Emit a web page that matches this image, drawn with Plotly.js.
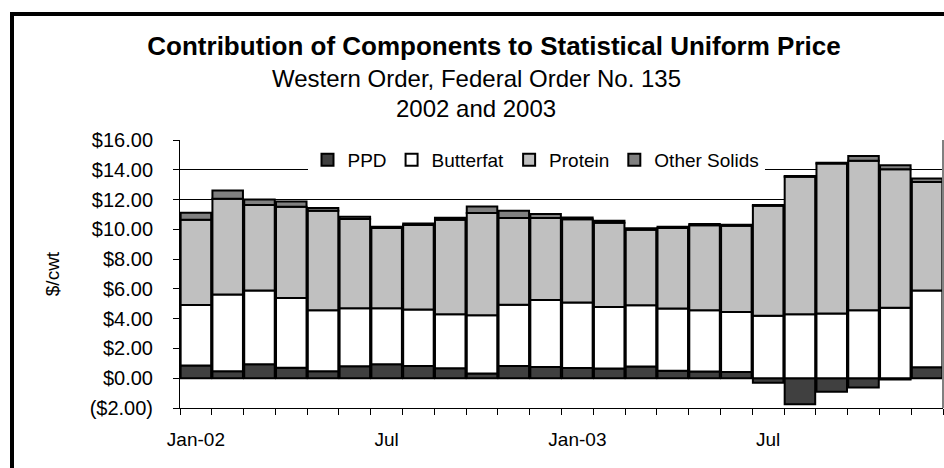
<!DOCTYPE html>
<html>
<head>
<meta charset="utf-8">
<script src="https://cdn.plot.ly/plotly-3.0.1.min.js"></script>
<style>
  html, body { margin: 0; padding: 0; background: #ffffff; overflow: hidden; }
  #chart { width: 944px; height: 468px; }
</style>
</head>
<body>
<div id="chart"></div>
<script>
// ---- Data ----
const categories = [
  'Jan-02','Feb-02','Mar-02','Apr-02','May-02','Jun-02',
  'Jul-02','Aug-02','Sep-02','Oct-02','Nov-02','Dec-02',
  'Jan-03','Feb-03','Mar-03','Apr-03','May-03','Jun-03',
  'Jul-03','Aug-03','Sep-03','Oct-03','Nov-03','Dec-03'
];
const xTickText = [
  'Jan-02','','','','','',
  'Jul','','','','','',
  'Jan-03','','','','','',
  'Jul','','','','',''
];
const ppd = [0.85, 0.47, 0.94, 0.71, 0.47, 0.80, 0.94, 0.82, 0.67, 0.31, 0.82, 0.76,
             0.69, 0.65, 0.78, 0.50, 0.45, 0.42, -0.31, -1.74, -0.91, -0.62, -0.09, 0.73];
const butterfat = [4.07, 5.16, 4.96, 4.68, 4.10, 3.90, 3.76, 3.79, 3.63, 3.92, 4.12, 4.50,
                   4.39, 4.14, 4.12, 4.18, 4.12, 4.03, 4.19, 4.30, 4.34, 4.57, 4.74, 5.17];
const protein = [5.73, 6.42, 5.73, 6.12, 6.68, 5.99, 5.39, 5.68, 6.35, 6.86, 5.82, 5.50,
                 5.59, 5.66, 5.08, 5.41, 5.70, 5.79, 7.39, 9.24, 10.09, 10.04, 9.29, 7.28];
const otherSolids = [0.47, 0.56, 0.38, 0.36, 0.18, 0.16, 0.09, 0.11, 0.13, 0.45, 0.49, 0.27,
                     0.13, 0.13, 0.09, 0.09, 0.09, 0.07, 0.05, 0.05, 0.05, 0.31, 0.27, 0.23];
const yTickValues = [-2, 0, 2, 4, 6, 8, 10, 12, 14, 16];
const yTickText = ['($2.00)','$0.00','$2.00','$4.00','$6.00','$8.00','$10.00','$12.00','$14.00','$16.00'];

// ---- Traces ----
const FONT = 'Liberation Sans, Arial, Helvetica, sans-serif';
function barTrace(name, values, color) {
  return {
    type: 'bar',
    name: name,
    x: categories,
    y: values,
    marker: { color: color, line: { color: '#000000', width: 2 } },
    hoverinfo: 'name+y'
  };
}
const data = [
  barTrace('PPD', ppd, '#404040'),
  barTrace('Butterfat', butterfat, '#ffffff'),
  barTrace('Protein', protein, '#c0c0c0'),
  barTrace('Other Solids', otherSolids, '#808080')
];

// pixel helpers for paper coordinates
const L = 180, R = 1, T = 140, B = 60, W = 944, H = 468;
const pw = W - L - R, ph = H - T - B;
const px = v => (v - L) / pw;
const py = v => (H - B - v) / ph;

const layout = {
  width: W, height: H,
  margin: { l: L, r: R, t: T, b: B, pad: 0 },
  paper_bgcolor: '#ffffff',
  plot_bgcolor: '#ffffff',
  barmode: 'relative',
  bargap: 0.04,
  font: { family: FONT, color: '#000000', size: 19 },
  title: {
    text: '<b>Contribution of Components to Statistical Uniform Price</b>',
    font: { family: FONT, size: 26, color: '#000000' },
    xref: 'container', x: 494 / W, xanchor: 'center',
    yref: 'container', y: 1 - 46 / H, yanchor: 'middle'
  },
  annotations: [
    { text: 'Western Order, Federal Order No. 135', xref: 'paper', yref: 'paper',
      x: px(476), y: py(78), xanchor: 'center', yanchor: 'middle', showarrow: false,
      font: { family: FONT, size: 24, color: '#000000' } },
    { text: '2002 and 2003', xref: 'paper', yref: 'paper',
      x: px(476), y: py(108), xanchor: 'center', yanchor: 'middle', showarrow: false,
      font: { family: FONT, size: 24, color: '#000000' } }
  ],
  xaxis: {
    type: 'category',
    tickmode: 'array',
    tickvals: categories,
    ticktext: xTickText,
    tickson: 'boundaries',
    tickangle: 0,
    ticks: 'outside', ticklen: 6, tickwidth: 1, tickcolor: '#000000',
    ticklabelstandoff: 14,
    showgrid: false, zeroline: false,
    showline: true, linecolor: '#000000', linewidth: 1,
    tickfont: { family: FONT, size: 19, color: '#000000' },
    fixedrange: true
  },
  yaxis: {
    range: [-2, 16],
    tickmode: 'array',
    tickvals: yTickValues,
    ticktext: yTickText,
    ticks: 'outside', ticklen: 6, tickwidth: 1, tickcolor: '#000000',
    ticklabelstandoff: 16,
    showgrid: true, gridcolor: '#000000', gridwidth: 1,
    zeroline: false,
    showline: true, linecolor: '#000000', linewidth: 1,
    tickfont: { family: FONT, size: 20, color: '#000000' },
    title: { text: '$/cwt', font: { family: FONT, size: 19, color: '#000000' }, standoff: 24 },
    fixedrange: true
  },
  showlegend: true,
  legend: {
    orientation: 'h',
    x: px(536), xanchor: 'center',
    y: py(160), yanchor: 'middle',
    bgcolor: '#ffffff',
    borderwidth: 0,
    traceorder: 'normal',
    font: { family: FONT, size: 19, color: '#000000' },
    itemclick: false, itemdoubleclick: false
  },
  shapes: [
    { type: 'line', xref: 'paper', yref: 'paper', x0: 1, x1: 1, y0: 0, y1: 1,
      line: { color: '#808080', width: 2 } },
    { type: 'rect', xref: 'paper', yref: 'paper',
      x0: px(12), x1: px(990), y0: py(520), y1: py(14),
      line: { color: '#000000', width: 4 }, fillcolor: 'rgba(0,0,0,0)' }
  ]
};

Plotly.newPlot('chart', data, layout, { displayModeBar: false, staticPlot: false, responsive: false });
</script>
</body>
</html>
